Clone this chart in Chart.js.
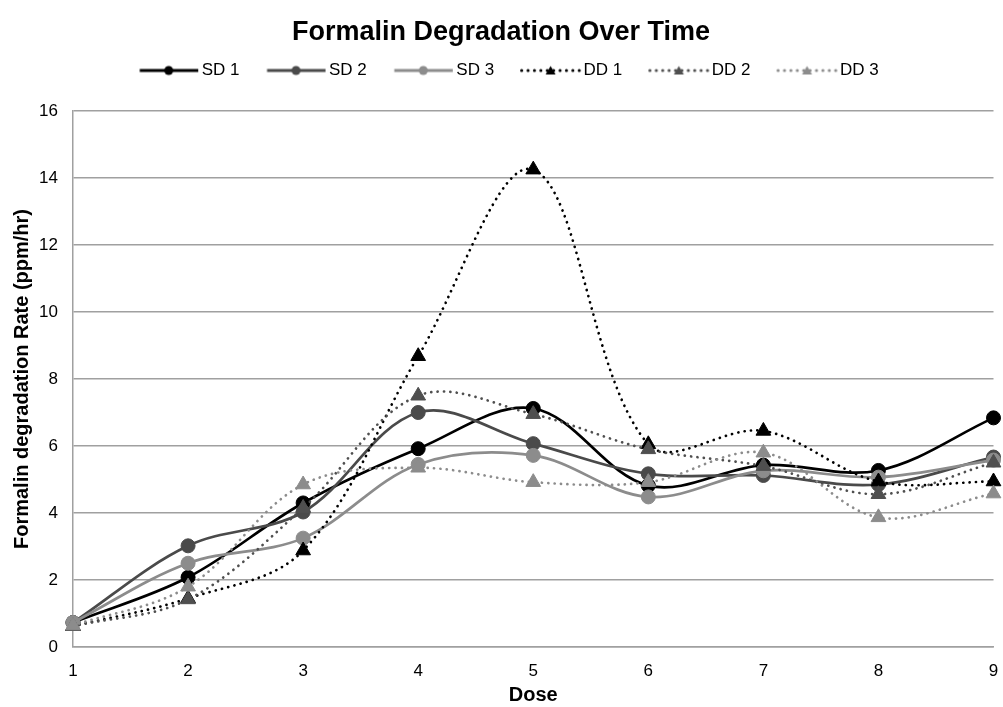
<!DOCTYPE html>
<html>
<head>
<meta charset="utf-8">
<script src="https://cdn.jsdelivr.net/npm/chart.js@4.4.1/dist/chart.umd.min.js"></script>
<style>
  html, body { margin: 0; padding: 0; background: #fff; }
  #wrap { width: 1003px; height: 707px; }
</style>
</head>
<body>
<div id="wrap"><canvas id="chart" width="1003" height="707"></canvas></div>
<script>
const doses = ['1', '2', '3', '4', '5', '6', '7', '8', '9'];

const sd1 = [0.73, 2.08, 4.3, 5.92, 7.12, 4.82, 5.43, 5.27, 6.84];
const sd2 = [0.73, 3.02, 4.03, 7.0, 6.07, 5.17, 5.12, 4.85, 5.67];
const sd3 = [0.73, 2.5, 3.25, 5.45, 5.72, 4.48, 5.26, 5.07, 5.58];
const dd1 = [0.62, 1.45, 2.88, 8.68, 14.25, 6.05, 6.45, 4.94, 4.94];
const dd2 = [0.62, 1.42, 4.15, 7.5, 6.95, 5.9, 5.4, 4.56, 5.5];
const dd3 = [0.64, 1.8, 4.85, 5.35, 4.92, 4.92, 5.8, 3.87, 4.58];

const yTicks = [0, 2, 4, 6, 8, 10, 12, 14, 16];

const FONT = "'Liberation Sans', Arial, sans-serif";
const GRID = '#a0a0a0';
const DOT = [0.1, 6.3];

const series = [
    { label: 'SD 1', data: sd1, color: '#000000', dotted: false, marker: 'circle' },
    { label: 'SD 2', data: sd2, color: '#4a4a4a', dotted: false, marker: 'circle' },
    { label: 'SD 3', data: sd3, color: '#8c8c8c', dotted: false, marker: 'circle' },
    { label: 'DD 1', data: dd1, color: '#000000', dotted: true, marker: 'triangle' },
    { label: 'DD 2', data: dd2, color: '#4f4f4f', dotted: true, marker: 'triangle' },
    { label: 'DD 3', data: dd3, color: '#8c8c8c', dotted: true, marker: 'triangle' }
];

// legend swatch: line with a marker in the middle
function makeIcon(s) {
    const c = document.createElement('canvas');
    c.width = 80;
    c.height = 14;
    const g = c.getContext('2d');
    g.strokeStyle = s.color;
    g.fillStyle = s.color;
    g.lineWidth = 3;
    g.lineCap = s.dotted ? 'round' : 'butt';
    if (s.dotted) g.setLineDash([0.1, 6.3]);
    g.beginPath();
    g.moveTo(19.5, 7);
    g.lineTo(78, 7);
    g.stroke();
    g.setLineDash([]);
    g.beginPath();
    if (s.marker === 'circle') {
        g.arc(48.5, 7, 4.5, 0, Math.PI * 2);
    } else {
        g.moveTo(48.5, 2.5);
        g.lineTo(53.5, 11);
        g.lineTo(43.5, 11);
        g.closePath();
    }
    g.fill();
    return c;
}
const icons = series.map(makeIcon);

const datasets = series.map((s, i) => ({
    label: s.label,
    data: s.data,
    borderColor: s.color,
    backgroundColor: s.color,
    borderWidth: 2.7,
    borderDash: s.dotted ? DOT : [],
    borderCapStyle: s.dotted ? 'round' : 'butt',
    tension: 0.35,
    fill: false,
    pointStyle: s.marker,
    pointRadius: s.marker === 'circle' ? 7 : 8.5,
    pointBorderWidth: 1,
    pointBorderColor: s.color,
    pointBackgroundColor: s.color,
    order: series.length - 1 - i
}));

// nudge the legend row a little to the right
const legendShift = {
    id: 'legendShift',
    afterLayout(chart) {
        chart.legend.left += 2;
        chart.legend.right += 2;
    }
};

new Chart(document.getElementById('chart'), {
    type: 'line',
    data: { labels: doses, datasets: datasets },
    plugins: [legendShift],
    options: {
        responsive: false,
        animation: false,
        layout: { padding: { left: 0, right: 1, top: 0, bottom: 0 } },
        plugins: {
            tooltip: { enabled: false },
            title: {
                display: true,
                text: 'Formalin Degradation Over Time',
                color: '#000',
                font: { family: FONT, size: 27, weight: 'bold', lineHeight: 1 },
                padding: { top: 19.5, bottom: 0.5 }
            },
            subtitle: {
                display: true,
                text: ' ',
                weight: 500,
                font: { family: FONT, size: 10, lineHeight: 1 },
                padding: { top: 6, bottom: 6 }
            },
            legend: {
                position: 'top',
                labels: {
                    usePointStyle: true,
                    pointStyleWidth: 66,
                    padding: 15,
                    color: '#000',
                    font: { family: FONT, size: 17 },
                    generateLabels(chart) {
                        const items = Chart.defaults.plugins.legend.labels.generateLabels(chart);
                        items.sort((a, b) => a.datasetIndex - b.datasetIndex);
                        items.forEach(it => { it.pointStyle = icons[it.datasetIndex]; });
                        return items;
                    }
                }
            }
        },
        scales: {
            x: {
                grid: { display: false, drawTicks: false },
                border: { display: true, color: GRID, width: 1.5 },
                ticks: { color: '#000', padding: 13.8, font: { family: FONT, size: 17, lineHeight: 1.2 } },
                title: {
                    display: true,
                    text: 'Dose',
                    color: '#000',
                    font: { family: FONT, size: 20, weight: 'bold', lineHeight: 1 },
                    padding: { top: 4, bottom: 1.8 }
                },
                afterFit(scale) {
                    scale.height = 60;
                    scale.paddingLeft = 0;
                    scale.paddingRight = 0;
                }
            },
            y: {
                min: 0,
                max: 16,
                afterBuildTicks(axis) { axis.ticks = yTicks.map(v => ({ value: v })); },
                grid: { color: GRID, lineWidth: 1.5, drawTicks: false },
                border: { display: true, color: GRID, width: 1.5 },
                ticks: { color: '#000', padding: 15, font: { family: FONT, size: 17 } },
                title: {
                    display: true,
                    text: 'Formalin degradation Rate (ppm/hr)',
                    color: '#000',
                    font: { family: FONT, size: 20, weight: 'bold', lineHeight: 1.2 },
                    padding: { top: 10, bottom: 5 }
                },
                afterFit(scale) {
                    scale.width = 73;
                }
            }
        }
    }
});
</script>
</body>
</html>
